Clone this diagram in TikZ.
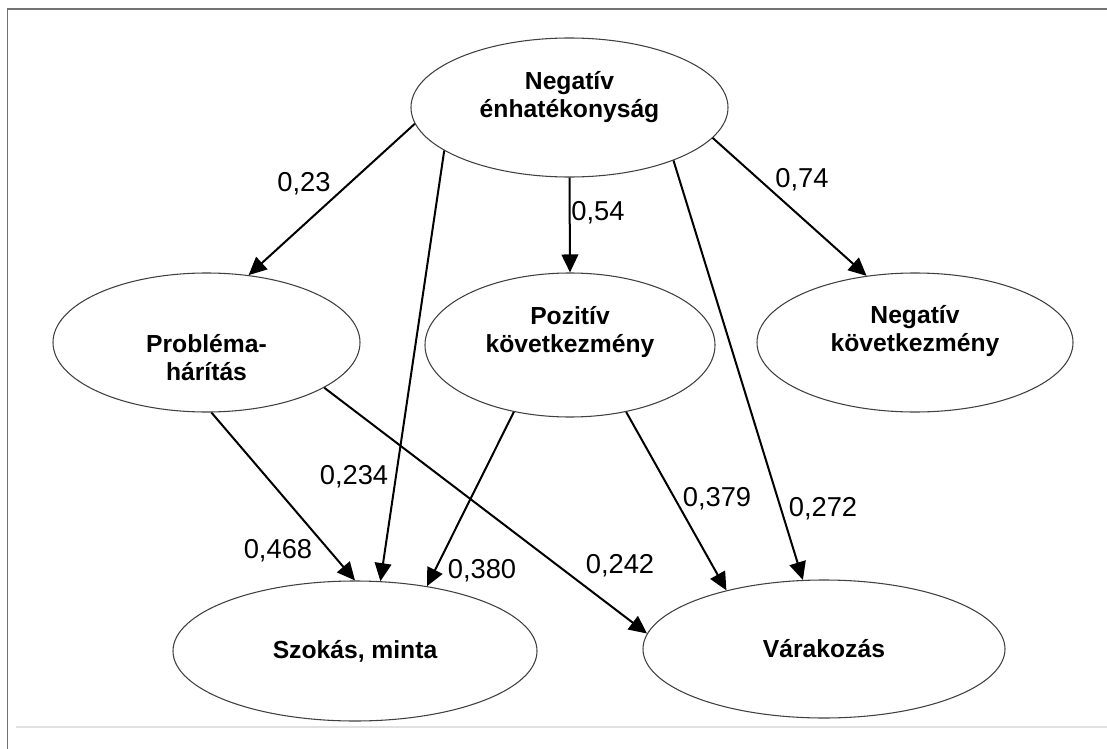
\documentclass[tikz,border=0pt]{standalone}
\usepackage{fontspec}
\setmainfont{Liberation Sans}
\usetikzlibrary{shapes.geometric,arrows.meta}

\begin{document}
\begin{tikzpicture}[x=0.75pt, y=-0.75pt,
		myoval/.style={draw=black!75, line width=0.8pt, ellipse, inner sep=0pt, align=center, font=\bfseries\fontsize{18.5}{21}\selectfont},
		mylabel/.style={font=\fontsize{20.5}{24}\selectfont},
		myarrow/.style={-{Triangle[length=13.5pt, width=12.5pt]}, line width=1.5pt}
	]

	\useasboundingbox (0,0) rectangle (1107,749);
	\draw[color=black!55, line width=1pt] (7.5,749) -- (7.5,9) -- (1107,9);
	\draw[color=black!12, line width=1pt] (16,727) -- (1107,727);

	\node[myoval, minimum width=237.75pt, minimum height=104.25pt, text height=34pt, text depth=18.9pt] (negen) at (569.5,107.5) {Negatív\\énhatékonyság};

	\node[myoval, minimum width=230.25pt, minimum height=104.25pt, text height=57pt, text depth=0pt] (probl) at (206.5,342.5) {Probléma-\\hárítás};
	\node[myoval, minimum width=217.5pt, minimum height=108pt, text height=34pt, text depth=22.6pt] (pozk) at (570,345) {Pozitív\\következmény};
	\node[myoval, minimum width=237pt, minimum height=104.25pt, text height=34pt, text depth=20.3pt] (negk) at (915,342.5) {Negatív\\következmény};

	\node[myoval, minimum width=273pt, minimum height=105pt] (szok) at (355,651) {Szokás, minta};
	\node[myoval, minimum width=271.5pt, minimum height=103.5pt] (vark) at (824,649) {Várakozás};

	\draw[myarrow] (negen.186) -- (probl.58);
	\draw[myarrow] (negen.199) -- (szok.70);
	\draw[myarrow] (negen.south) -- (pozk.north);
	\draw[myarrow] (negen.333) -- (vark.107);
	\draw[myarrow] (negen.348) -- (negk.126);

	\draw[myarrow] (probl.274) -- (szok.north);
	\draw[myarrow] (probl.339) -- (vark.175);
	\draw[myarrow] (pozk.230) -- (szok.42);
	\draw[myarrow] (pozk.310) -- (vark.149);

	\node[mylabel] (w023) at (304,184) {0,23};
	\node[mylabel] (w054) at (598,213) {0,54};
	\node[mylabel] (w074) at (802,180) {0,74};
	\node[mylabel] (w234) at (354,477) {0,234};
	\node[mylabel] (w468) at (278,551) {0,468};
	\node[mylabel] (w380) at (482,571) {0,380};
	\node[mylabel] (w242) at (620,566) {0,242};
	\node[mylabel] (w379) at (717,499) {0,379};
	\node[mylabel] (w272) at (823,509) {0,272};
\end{tikzpicture}
\end{document}
